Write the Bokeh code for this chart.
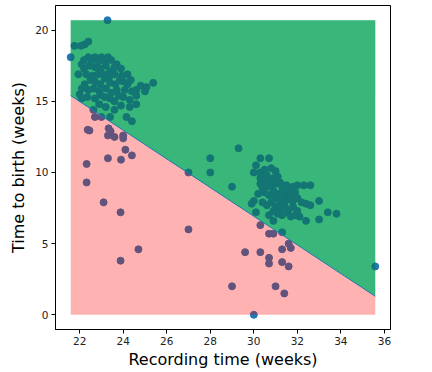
from bokeh.plotting import figure
from bokeh.models import Range1d, FixedTicker
from bokeh.embed import file_html
from bokeh.resources import INLINE

# ---- data ----
early_x = [21.76, 22.06, 22.23, 22.4,
           22.09, 22.4, 22.7, 23.0, 23.3, 22.2, 22.55, 22.85, 23.15, 23.45, 23.7, 23.9, 23.6,
           21.94, 22.2, 22.45, 22.7, 22.95, 23.2, 23.4, 22.3, 22.6, 22.85, 23.1, 23.35, 23.6, 23.93, 24.2,
           22.23, 22.5, 22.7, 22.95, 23.15, 23.4, 23.65, 23.85, 24.0, 24.2, 24.35,
           22.1, 22.4, 22.65, 22.9, 23.2, 23.45, 23.7, 24.07, 24.4, 24.6, 25.0, 25.07, 25.38, 24.8,
           22.0, 22.09, 22.35, 22.7, 22.95, 23.15, 23.4, 23.6, 23.8, 24.0, 24.3, 24.3, 24.6, 24.6,
           22.63, 23.6, 23.4, 24.15, 24.4, 22.9, 23.2, 23.9,
           22.7, 23.0, 22.37, 22.45, 23.33, 23.42, 23.3, 23.6, 24.0, 24.0, 24.1, 24.4, 23.3, 23.9,
           22.32, 22.32, 23.1, 23.88, 24.7, 23.88]
early_y = [18.9, 18.9, 19.0, 19.2,
           17.6, 18.1, 18.1, 18.1, 18.1, 17.9, 17.9, 17.8, 17.85, 17.9, 17.6, 17.3, 17.4,
           16.9, 17.3, 17.5, 17.4, 17.3, 17.5, 17.1, 16.9, 16.8, 16.9, 16.9, 16.7, 16.9, 16.8, 16.9,
           16.2, 16.5, 16.4, 16.2, 16.6, 16.3, 16.2, 16.5, 16.4, 16.2, 16.5,
           15.9, 15.8, 15.9, 15.7, 15.9, 15.6, 15.8, 15.8, 15.7, 15.8, 15.7, 16.0, 16.3, 16.1,
           15.5, 15.2, 15.3, 15.2, 15.45, 15.3, 15.2, 15.0, 15.4, 15.3, 15.1, 14.6, 14.8, 15.4,
           14.4, 14.4, 13.9, 13.9, 13.6, 14.8, 14.6, 14.7,
           13.9, 13.9, 13.0, 12.95, 13.1, 12.9, 12.6, 12.5, 12.6, 12.4, 11.6, 11.2, 11.0, 10.9,
           10.6, 9.3, 7.9, 7.2, 4.6, 3.8]

late_x = [27.0, 28.0, 28.0, 29.0, 29.3,
          30.3, 30.7, 30.1, 30.0, 30.3, 30.5, 30.8, 31.0, 30.6,
          30.3, 30.3, 30.5, 30.7, 30.9, 31.1, 31.2, 30.4, 30.6, 30.8, 31.0, 31.3, 31.5, 31.6, 31.8, 32.0, 32.3, 32.6,
          30.2, 30.5, 30.7, 30.9, 31.1, 31.3, 31.5, 31.7, 31.9, 31.0, 31.2, 31.4, 31.6, 31.8, 32.0, 32.2, 32.4, 32.6, 33.0,
          30.0, 29.9, 30.4, 30.6, 30.8, 31.0, 31.2, 31.4, 31.6, 31.8, 32.0, 30.9, 31.1, 31.3, 31.5, 31.7, 31.9, 32.1,
          30.1, 30.9, 30.7, 32.4, 33.0, 33.4, 33.8, 31.3, 30.3,
          30.7, 30.9, 31.6, 31.7, 29.6, 30.3, 30.7, 30.7, 31.3, 31.3, 31.6, 29.0, 31.0, 31.4, 27.0]
late_y = [10.0, 11.0, 10.0, 9.0, 11.7,
          11.0, 11.0, 10.5, 10.0, 10.0, 10.2, 10.3, 10.1, 9.8,
          9.6, 9.2, 9.4, 9.5, 9.6, 9.7, 9.3, 8.9, 9.0, 9.1, 9.2, 9.0, 9.1, 8.9, 9.0, 9.1, 9.1, 9.1,
          8.5, 8.6, 8.4, 8.7, 8.5, 8.6, 8.4, 8.5, 8.6, 8.2, 8.0, 8.2, 8.1, 8.0, 8.2, 7.9, 7.8, 7.7, 8.0,
          8.0, 7.8, 7.9, 7.7, 7.9, 7.6, 7.5, 7.7, 7.4, 7.6, 7.3, 7.3, 7.1, 7.0, 7.2, 6.9, 7.0, 6.9,
          7.2, 6.6, 7.0, 6.6, 6.7, 7.2, 7.1, 5.8, 6.3,
          5.7, 5.7, 5.0, 4.7, 4.4, 4.4, 4.0, 3.6, 4.6, 3.7, 3.4, 2.0, 2.0, 1.5, 6.0]

outlier_x = [21.59, 23.28, 35.58, 30.0]
outlier_y = [18.1, 20.7, 3.4, 0.0]

boundary_at_xmin = 15.4   # decision boundary value at left edge of data
boundary_at_xmax = 1.3    # decision boundary value at right edge of data

x_ticks = [22, 24, 26, 28, 30, 32, 34, 36]
y_ticks = [0, 5, 10, 15, 20]

rec_weeks = early_x + late_x + outlier_x
ttb_weeks = early_y + late_y + outlier_y

xmin, xmax = min(rec_weeks), max(rec_weeks)
ymin, ymax = min(ttb_weeks), max(ttb_weeks)
dx, dy = xmax - xmin, ymax - ymin

p = figure(frame_width=335, frame_height=324, output_backend="svg", toolbar_location=None,
           x_range=Range1d(xmin - 0.05 * dx, xmax + 0.05 * dx),
           y_range=Range1d(ymin - 0.05 * dy, ymax + 0.05 * dy),
           min_border_left=55, min_border_right=20, min_border_top=5, min_border_bottom=30,
           background_fill_color="white", border_fill_color="white")

green_x = [xmin, xmin, xmax, xmax]
green_y = [boundary_at_xmin, ymax, ymax, boundary_at_xmax]
pink_x = [xmin, xmin, xmax, xmax]
pink_y = [ymin, boundary_at_xmin, boundary_at_xmax, ymin]

# underlying green layer
p.patch(green_x, green_y, fill_color="#5ee5be", fill_alpha=1.0, line_color=None)
# points
p.scatter(rec_weeks, ttb_weeks, size=7, fill_color="#1f77b4", line_color="#1f77b4")
# translucent overlays
p.patch(green_x, green_y, fill_color="#037414", fill_alpha=0.4, line_color=None)
p.patch(pink_x, pink_y, fill_color="#ff0000", fill_alpha=0.3, line_color=None)
# boundary
p.line([xmin, xmax], [boundary_at_xmin, boundary_at_xmax], line_color="#1f77b4", line_width=1)

p.grid.visible = False
p.outline_line_color = "black"
p.outline_line_width = 1

for ax in (p.xaxis[0], p.yaxis[0]):
    ax.axis_line_color = "black"
    ax.major_tick_line_color = "black"
    ax.minor_tick_line_color = None
    ax.major_tick_in = 0
    ax.major_tick_out = 4
    ax.major_label_text_font = "DejaVu Sans"
    ax.major_label_text_font_size = "10.5px"
    ax.major_label_text_color = "#222222"
    ax.major_label_standoff = 3
    ax.axis_label_text_font = "DejaVu Sans"
    ax.axis_label_text_font_size = "16px"
    ax.axis_label_text_font_style = "normal"
    ax.axis_label_text_color = "black"
    ax.axis_label_standoff = 4

p.xaxis.ticker = FixedTicker(ticks=x_ticks)
p.yaxis.ticker = FixedTicker(ticks=y_ticks)
p.xaxis.axis_label = "Recording time (weeks)"
p.yaxis.axis_label = "Time to birth (weeks)"
p.xaxis.axis_label_standoff = 2

open("out.html", "w").write(file_html(p, INLINE))
